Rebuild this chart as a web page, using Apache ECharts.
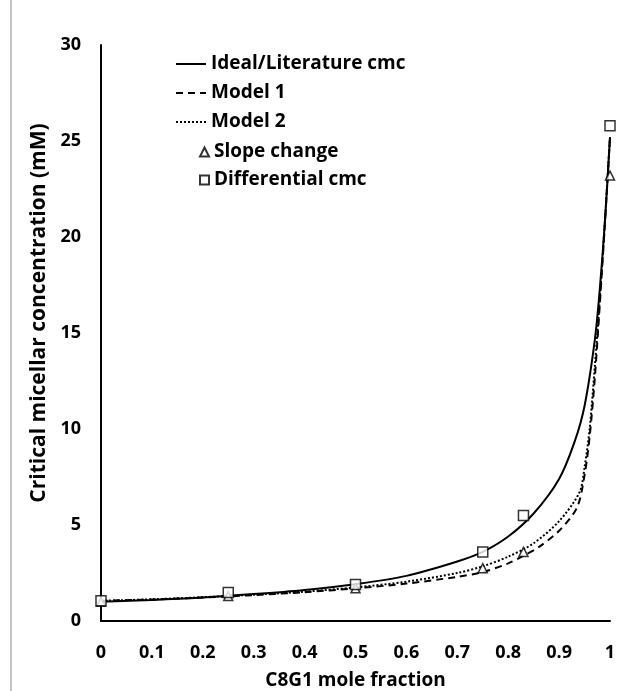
<!DOCTYPE html>
<html>
<head>
<meta charset="utf-8">
<script src="https://cdn.jsdelivr.net/npm/echarts@6/dist/echarts.min.js"></script>
<style>
  html, body { margin: 0; padding: 0; background: #fff; }
  #chart { width: 623px; height: 691px; }
</style>
</head>
<body>
<div id="chart"></div>
<script>
  // values
  var idealX = [0, 0.1, 0.2, 0.3, 0.4, 0.5, 0.6, 0.7, 0.75, 0.8, 0.85, 0.9, 0.93, 0.95, 0.97, 0.98, 0.99, 1];
  var idealY = [1.0, 1.1, 1.22, 1.4, 1.62, 1.92, 2.35, 3.1, 3.6, 4.4, 5.6, 7.4, 9.3, 11.2, 14.6, 17.3, 20.8, 25.2];
  var model1X = [0, 0.1, 0.2, 0.3, 0.4, 0.5, 0.6, 0.7, 0.75, 0.8, 0.83, 0.86, 0.9, 0.935, 0.95, 0.96, 0.97, 0.98, 0.99, 1];
  var model1Y = [1.05, 1.12, 1.22, 1.35, 1.5, 1.7, 1.95, 2.3, 2.55, 3.0, 3.4, 3.85, 4.7, 5.9, 7.6, 9.6, 12.6, 16.5, 20.7, 25.2];
  var model2X = [0, 0.1, 0.2, 0.3, 0.4, 0.5, 0.6, 0.7, 0.75, 0.8, 0.85, 0.9, 0.94, 0.95, 0.96, 0.97, 0.98, 0.99, 1];
  var model2Y = [1.05, 1.13, 1.24, 1.37, 1.53, 1.75, 2.05, 2.5, 2.85, 3.35, 4.05, 5.2, 6.7, 8.0, 10.0, 13.2, 16.8, 20.8, 25.2];
  var slopeX = [0, 0.25, 0.5, 0.75, 0.83, 1];
  var slopeY = [1.0, 1.3, 1.7, 2.75, 3.6, 23.2];
  var diffX = [0, 0.25, 0.5, 0.75, 0.83, 1];
  var diffY = [1.05, 1.48, 1.9, 3.6, 5.5, 25.8];

  var font = "Open Sans";

  function pairs(xs, ys) {
    return xs.map(function (x, i) { return [x, ys[i]]; });
  }

  var legendText = { fontFamily: font, fontWeight: "bold", fontSize: 19, lineHeight: 24, color: "#000" };
  // hide the dot that line series put in the middle of their legend icon
  var noDot = { color: "rgba(0,0,0,0)", borderWidth: 0, opacity: 0 };

  var chart = echarts.init(document.getElementById("chart"));
  var option = {
    backgroundColor: "#fff",
    animation: false,
    grid: { left: 101, right: 13, top: 45, bottom: 70, outerBoundsMode: "none" },
    legend: [
      {
        orient: "vertical",
        left: 170,
        top: 47,
        itemGap: 5,
        itemWidth: 30,
        itemHeight: 10,
        textStyle: legendText,
        data: [
          { name: "Ideal/Literature cmc", itemStyle: noDot },
          { name: "Model 1", itemStyle: noDot },
          { name: "Model 2", itemStyle: noDot }
        ]
      },
      {
        orient: "vertical",
        left: 194,
        top: 135,
        itemGap: 4,
        itemWidth: 9,
        itemHeight: 9,
        textStyle: legendText,
        data: ["Slope change", "Differential cmc"]
      }
    ],
    xAxis: {
      type: "value",
      min: 0,
      max: 1,
      interval: 0.1,
      name: "C8G1 mole fraction",
      nameLocation: "middle",
      nameGap: 50,
      nameTextStyle: { fontFamily: font, fontWeight: "bold", fontSize: 19, color: "#000" },
      axisLine: { lineStyle: { color: "#000", width: 2 } },
      axisTick: { show: false },
      splitLine: { show: false },
      axisLabel: { fontFamily: font, fontWeight: "bold", fontSize: 18, color: "#000", margin: 23 }
    },
    yAxis: {
      type: "value",
      min: 0,
      max: 30,
      interval: 5,
      name: "Critical micellar concentration (mM)",
      nameLocation: "middle",
      nameGap: 46,
      nameTextStyle: { fontFamily: font, fontWeight: "bold", fontSize: 21, color: "#000", padding: [0, 0, 0, 40] },
      axisLine: { show: true, lineStyle: { color: "#000", width: 2 } },
      axisTick: { show: false },
      splitLine: { show: false },
      axisLabel: { fontFamily: font, fontWeight: "bold", fontSize: 18, color: "#000", margin: 20 }
    },
    series: [
      {
        name: "Ideal/Literature cmc",
        type: "line",
        data: pairs(idealX, idealY),
        symbol: "none",
        smooth: 0.3,
        lineStyle: { color: "#000", width: 2, type: "solid" },
        itemStyle: { color: "#000" },
        z: 3
      },
      {
        name: "Model 1",
        type: "line",
        data: pairs(model1X, model1Y),
        symbol: "none",
        smooth: 0.3,
        lineStyle: { color: "#000", width: 2, type: [7, 5] },
        itemStyle: { color: "#000" },
        z: 2
      },
      {
        name: "Model 2",
        type: "line",
        data: pairs(model2X, model2Y),
        symbol: "none",
        smooth: 0.3,
        lineStyle: { color: "#000", width: 2, type: [2, 2] },
        itemStyle: { color: "#000" },
        z: 2
      },
      {
        name: "Slope change",
        type: "scatter",
        data: pairs(slopeX, slopeY),
        symbol: "triangle",
        symbolSize: 9,
        itemStyle: { color: "#fff", borderColor: "#000", borderWidth: 1.5 },
        z: 4
      },
      {
        name: "Differential cmc",
        type: "scatter",
        data: pairs(diffX, diffY),
        symbol: "rect",
        symbolSize: 10,
        itemStyle: { color: "#fff", borderColor: "#000", borderWidth: 1.5 },
        z: 4
      }
    ],
    graphic: [
      {
        type: "line",
        shape: { x1: 11, y1: 0, x2: 11, y2: 691 },
        style: { stroke: "#b0b0b0", lineWidth: 1.5 }
      }
    ]
  };
  chart.setOption(option);
</script>
</body>
</html>
